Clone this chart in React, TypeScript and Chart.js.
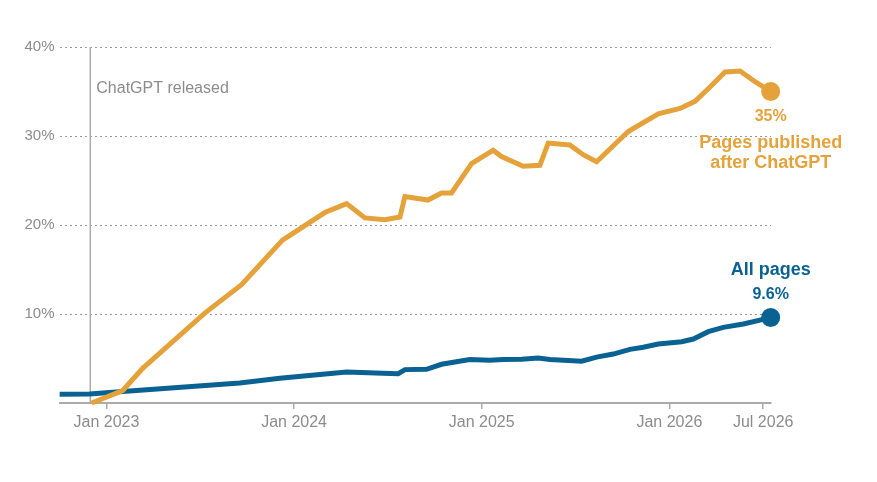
import React, { useEffect, useRef } from 'react';
import { Chart, registerables } from 'chart.js';

Chart.register(...registerables);

// x values are months counted from Jan 2023 (0 = Jan 2023)
const afterMonths = [-0.94, 1.04, 2.32, 4.69, 6.29, 8.64, 11.26, 13.97, 15.36, 16.53, 17.8, 18.77, 19.09, 20.56, 21.43, 22.07, 23.35, 24.73, 25.27, 26.65, 27.72, 28.25, 29.64, 30.49, 31.35, 33.37, 35.29, 36.68, 37.64, 38.6, 39.56, 40.52, 41.48, 42.48];
const afterValues = [0, 1.4, 3.9, 7.6, 10.1, 13.3, 18.3, 21.4, 22.4, 20.8, 20.6, 20.9, 23.2, 22.8, 23.6, 23.6, 26.9, 28.4, 27.7, 26.6, 26.7, 29.2, 29.0, 27.9, 27.1, 30.5, 32.5, 33.1, 33.9, 35.5, 37.2, 37.3, 36.1, 35];

const allMonths = [-2.99, -1.07, 1.04, 8.53, 11.09, 15.36, 17.68, 18.66, 19.09, 20.47, 21.43, 23.24, 24.52, 25.37, 26.55, 27.61, 28.36, 30.39, 31.35, 32.41, 33.48, 34.33, 35.29, 36.79, 37.53, 38.49, 39.45, 40.73, 42.48];
const allValues = [0.97, 1.0, 1.3, 2.25, 2.77, 3.47, 3.35, 3.3, 3.75, 3.78, 4.35, 4.88, 4.8, 4.9, 4.92, 5.05, 4.9, 4.7, 5.15, 5.5, 6.03, 6.26, 6.63, 6.89, 7.19, 8.01, 8.5, 8.88, 9.6];

const tickMonths = [0, 12, 24, 36, 42];
const tickLabels = ['Jan 2023', 'Jan 2024', 'Jan 2025', 'Jan 2026', 'Jul 2026'];
const yTicks = [0, 10, 20, 30, 40];

const releaseMonth = -1.03; // Nov 30, 2022
const afterLabel = ['Pages published', 'after ChatGPT'];
const allLabel = 'All pages';

const ORANGE = '#E5A23A';
const BLUE = '#0A6292';
const FONT = '"Liberation Sans", Arial, sans-serif';

const App: React.FC = () => {
  const chartRef = useRef<HTMLCanvasElement | null>(null);

  useEffect(() => {
    if (!chartRef.current) return;
    const ctx = chartRef.current.getContext('2d');
    if (!ctx) return;

    const annotations = {
      id: 'annotations',
      beforeDatasetsDraw(chart: any) {
        const { ctx, scales, chartArea } = chart;
        const rx = scales.x.getPixelForValue(releaseMonth);
        ctx.save();
        ctx.strokeStyle = '#aaaaaa';
        ctx.lineWidth = 1.5;
        ctx.beginPath();
        ctx.moveTo(rx, chartArea.top);
        ctx.lineTo(rx, chartArea.bottom);
        ctx.stroke();
        ctx.fillStyle = '#8c8c8c';
        ctx.font = `16px ${FONT}`;
        ctx.textAlign = 'left';
        ctx.textBaseline = 'alphabetic';
        ctx.fillText('ChatGPT released', rx + 6, chartArea.top + 46);
        ctx.restore();
      },
      afterDatasetsDraw(chart: any) {
        const { ctx } = chart;
        const a = chart.getDatasetMeta(0).data;
        const b = chart.getDatasetMeta(1).data;
        const pa = a[a.length - 1];
        const pb = b[b.length - 1];
        ctx.save();
        ctx.textAlign = 'center';
        ctx.textBaseline = 'alphabetic';
        ctx.fillStyle = ORANGE;
        ctx.font = `bold 16px ${FONT}`;
        ctx.fillText(`${afterValues[afterValues.length - 1]}%`, pa.x, pa.y + 29);
        ctx.font = `bold 18px ${FONT}`;
        ctx.fillText(afterLabel[0], pa.x, pa.y + 56);
        ctx.fillText(afterLabel[1], pa.x, pa.y + 76);
        ctx.fillStyle = BLUE;
        ctx.font = `bold 18px ${FONT}`;
        ctx.fillText(allLabel, pb.x, pb.y - 43);
        ctx.font = `bold 16px ${FONT}`;
        ctx.fillText(`${allValues[allValues.length - 1]}%`, pb.x, pb.y - 19);
        ctx.restore();
      },
    };

    const lastRadius = (n: number) => (c: any) => (c.dataIndex === n - 1 ? 7 : 0);

    const chart = new Chart(ctx, {
      type: 'line',
      data: {
        datasets: [
          {
            label: 'Pages published after ChatGPT',
            data: afterMonths.map((m, i) => ({ x: m, y: afterValues[i] })),
            borderColor: ORANGE,
            backgroundColor: ORANGE,
            borderWidth: 5,
            pointRadius: lastRadius(afterValues.length),
            pointHoverRadius: 0,
            tension: 0,
            clip: false,
          },
          {
            label: 'All pages',
            data: allMonths.map((m, i) => ({ x: m, y: allValues[i] })),
            borderColor: BLUE,
            backgroundColor: BLUE,
            borderWidth: 5,
            pointRadius: lastRadius(allValues.length),
            pointHoverRadius: 0,
            tension: 0,
            clip: false,
          },
        ],
      },
      options: {
        responsive: false,
        animation: false,
        layout: { padding: { top: 47, right: 106, bottom: 39, left: 0 } },
        plugins: { legend: { display: false }, tooltip: { enabled: false } },
        scales: {
          x: {
            type: 'linear',
            min: -3,
            max: 42.5,
            afterBuildTicks: (scale: any) => {
              scale.ticks = tickMonths.map((v) => ({ value: v }));
            },
            afterFit: (scale: any) => {
              scale.height = 40;
            },
            ticks: {
              autoSkip: false,
              maxRotation: 0,
              padding: 4,
              color: '#8c8c8c',
              font: { family: FONT, size: 16 },
              callback: (v: any) => tickLabels[tickMonths.indexOf(Number(v))] ?? '',
            },
            grid: {
              drawOnChartArea: false,
              drawTicks: true,
              tickLength: 6,
              color: '#aaaaaa',
              lineWidth: 1.5,
            },
            border: { display: true, color: '#aaaaaa', width: 2 },
          },
          y: {
            min: 0,
            max: 40,
            afterBuildTicks: (scale: any) => {
              scale.ticks = yTicks.map((v) => ({ value: v }));
            },
            afterFit: (scale: any) => {
              scale.width = 59.5;
            },
            ticks: {
              padding: 5,
              color: '#8c8c8c',
              font: { family: FONT, size: 15 },
              callback: (v: any) => (Number(v) === 0 ? '' : `${v}%`),
            },
            grid: {
              drawTicks: false,
              color: (c: any) => (c.tick && c.tick.value === 0 ? 'rgba(0,0,0,0)' : '#999999'),
              lineWidth: 1,
            },
            border: { display: false, dash: [2, 3] },
          },
        },
      },
      plugins: [annotations],
    });

    return () => {
      chart.destroy();
    };
  }, []);

  return (
    <div style={{ position: 'absolute', left: 0, top: 0, width: 877, height: 482, background: '#fff' }}>
      <canvas ref={chartRef} width={877} height={482} />
    </div>
  );
};

export default App;
